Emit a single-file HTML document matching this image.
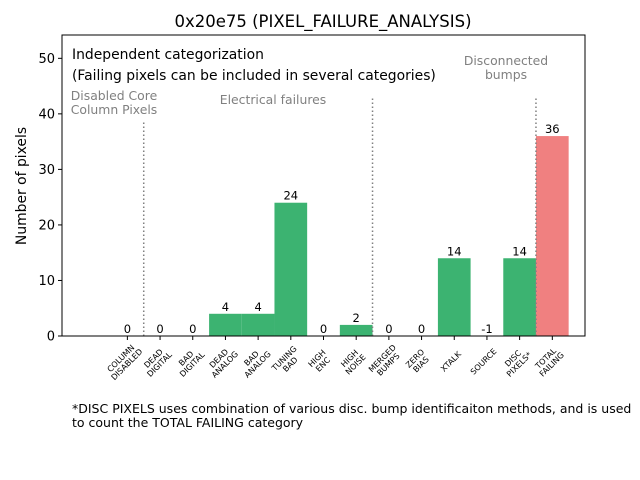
<!DOCTYPE html>
<html><head><meta charset="utf-8"><style>
html,body{margin:0;padding:0;background:#fff;}
svg{display:block;font-family:"DejaVu Sans","Liberation Sans",sans-serif;}
</style></head><body>
<svg id="chart" width="640" height="480" viewBox="0 0 640 480">
<defs><clipPath id="clip"><rect x="62" y="35" width="523" height="301"/></clipPath></defs>
<rect x="0" y="0" width="640" height="480" fill="#fff"/>
<text x="323" y="27" font-size="16.5" text-anchor="middle">0x20e75 (PIXEL_FAILURE_ANALYSIS)</text>
<g id="plot"></g>
<text x="72" y="59" font-size="13.9">Independent categorization</text>
<text x="72" y="80" font-size="13.9">(Failing pixels can be included in several categories)</text>
<text x="114" y="100" font-size="12.4" fill="#808080" text-anchor="middle"><tspan x="114">Disabled Core</tspan><tspan x="114" dy="14">Column Pixels</tspan></text>
<text x="273" y="104" font-size="12.4" fill="#808080" text-anchor="middle">Electrical failures</text>
<text x="506" y="65" font-size="12.4" fill="#808080" text-anchor="middle"><tspan x="506">Disconnected</tspan><tspan x="506" dy="14">bumps</tspan></text>
<text x="72" y="413" font-size="12.5"><tspan x="72">*DISC PIXELS uses combination of various disc. bump identificaiton methods, and is used</tspan><tspan x="72" dy="14">to count the TOTAL FAILING category</tspan></text>
<text transform="translate(26,186) rotate(-90)" font-size="13.9" text-anchor="middle">Number of pixels</text>
</svg>
<script>
const categories = [["COLUMN","DISABLED"],["DEAD","DIGITAL"],["BAD","DIGITAL"],["DEAD","ANALOG"],["BAD","ANALOG"],["TUNING","BAD"],["HIGH","ENC"],["HIGH","NOISE"],["MERGED","BUMPS"],["ZERO","BIAS"],["XTALK"],["SOURCE"],["DISC","PIXELS*"],["TOTAL","FAILING"]];
const values = [0,0,0,4,4,24,0,2,0,0,14,-1,14,36];
const yTicks = [0,10,20,30,40,50];
const separators = [[0.5,38.5],[7.5,43],[12.5,43]];
const NS="http://www.w3.org/2000/svg";
const L=62,R=585,T=35,B=336,xmin=-2,xmax=14,ymin=0,ymax=54.2;
const sx=v=>L+(v-xmin)/(xmax-xmin)*(R-L);
const sy=v=>B-(v-ymin)/(ymax-ymin)*(B-T);
const g=document.getElementById('plot');
function mk(tag,at,parent){const e=document.createElementNS(NS,tag);for(const k in at)e.setAttribute(k,at[k]);(parent||g).appendChild(e);return e;}
values.forEach((v,i)=>{
  const y0=sy(0),y1=sy(v);
  const r=mk('rect',{x:sx(i-0.5),y:Math.min(y0,y1),width:sx(i+0.5)-sx(i-0.5),height:Math.abs(y1-y0),fill:i===values.length-1?'#f08080':'#3cb371','clip-path':'url(#clip)'});
  
  
  const t=mk('text',{x:sx(i),y:sy(Math.max(v,0))-3,'font-size':'11.5','text-anchor':'middle'});
  t.textContent=v;
  
  
});
separators.forEach(s=>{
  const l=mk('line',{x1:sx(s[0]),x2:sx(s[0]),y1:sy(0),y2:sy(s[1]),stroke:'#808080','stroke-width':'1.5','stroke-dasharray':'1.5,2.5'});
  
  
});
const frame=mk('rect',{x:L,y:T,width:R-L,height:B-T,fill:'none',stroke:'#000','stroke-width':'1'});


yTicks.forEach(v=>{
  const tk=mk('line',{x1:L-4,x2:L,y1:sy(v),y2:sy(v),stroke:'#000'});
  
  
  const t=mk('text',{x:L-7,y:sy(v)+4.5,'font-size':'13','text-anchor':'end'});
  t.textContent=v;
  
  
});
categories.forEach((c,i)=>{
  const x=sx(i);
  const tk=mk('line',{x1:x,x2:x,y1:B,y2:B+4,stroke:'#000'});
  
  
  const t=mk('text',{transform:`translate(${x+7},${B+19}) rotate(-45)`,'font-size':'8','text-anchor':'middle'});
  
  
  const n=c.length;
  c.forEach((line,j)=>{
    const ts=mk('tspan',{x:-12,y:(j-(n-1))*8.5+(n===1?0:4)},t);
    ts.textContent=line;
  });
});
</script>
</body></html>
